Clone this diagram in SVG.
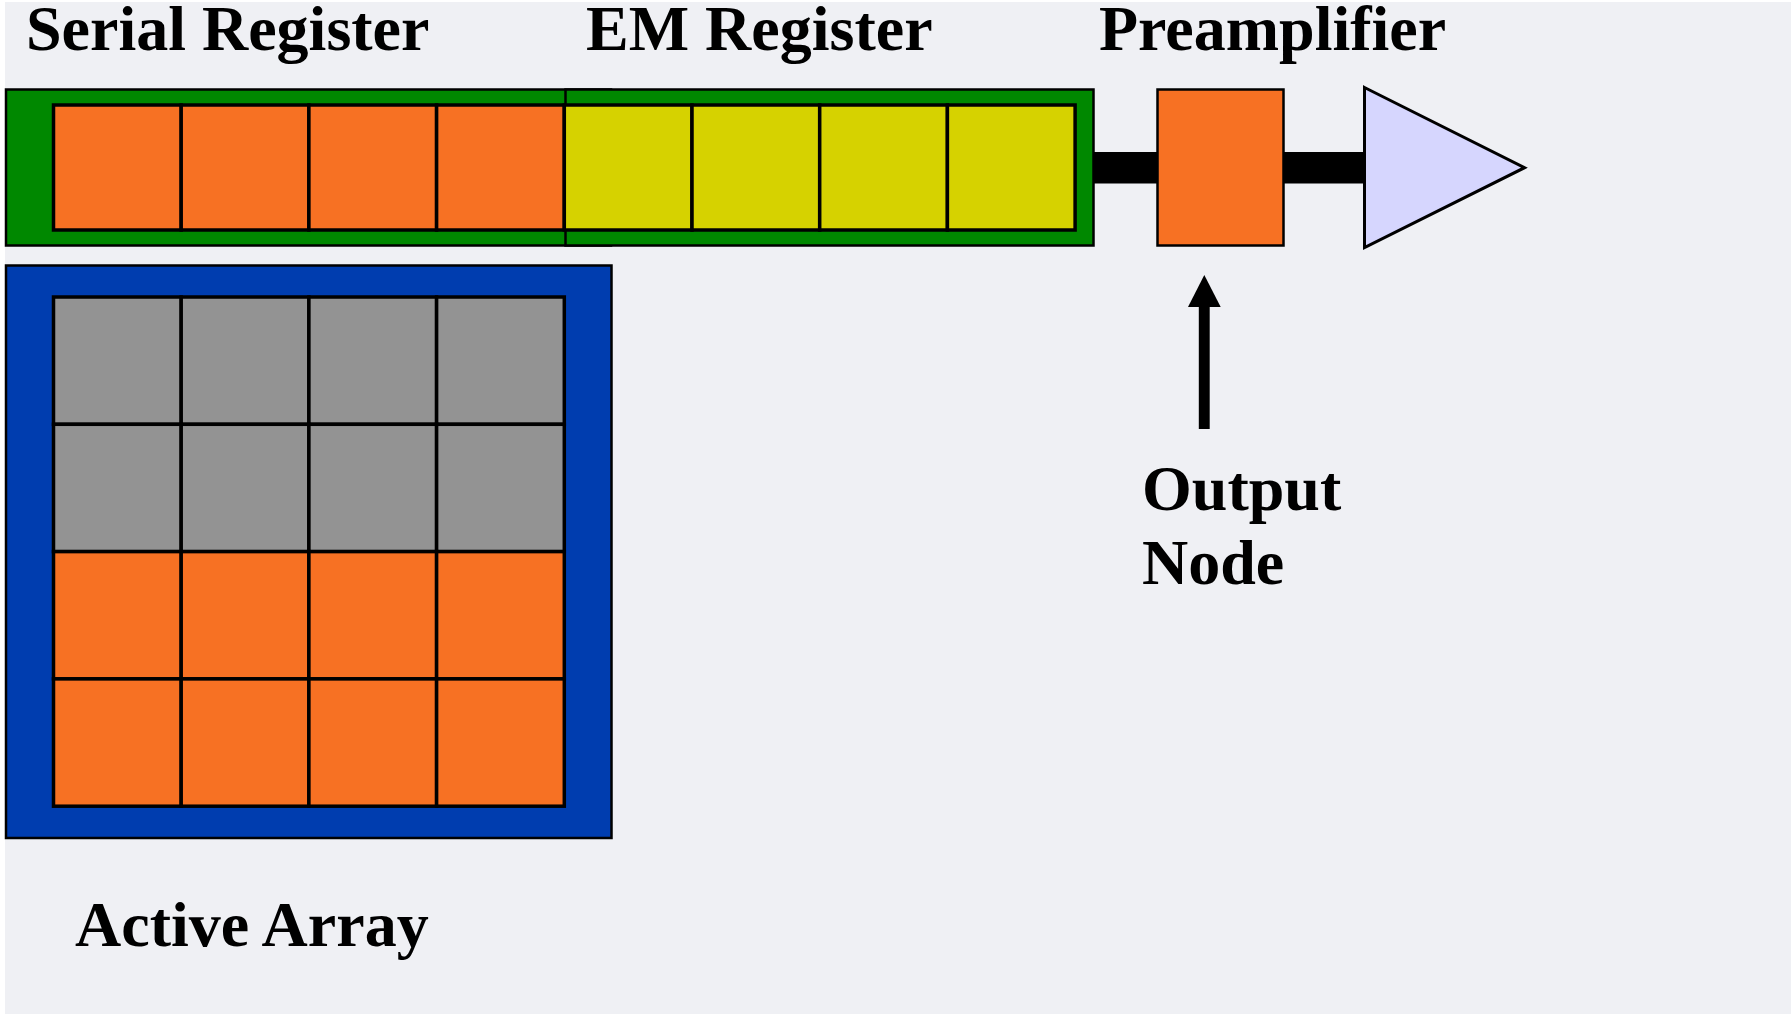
<svg xmlns="http://www.w3.org/2000/svg" width="1791" height="1017" viewBox="0 0 1791 1017">
<defs>
<style>
.lbl{font-family:"Liberation Serif","Times New Roman",serif;font-weight:bold;font-size:64px;fill:#000}
.frame{stroke:#000;stroke-width:2.5}
.cell{stroke:#000;stroke-width:3.5}
.or{fill:#F77123}
.ye{fill:#D6D200}
.gr{fill:#939393}
</style>
</defs>
<rect x="0" y="0" width="1791" height="1017" fill="#ffffff"/>
<rect x="5" y="2" width="1786" height="1012" fill="#EFF0F4"/>

<g id="serial-register">
<rect class="frame" x="6" y="89.5" width="605" height="156" fill="#008800"/>
</g>
<g id="em-register">
<rect class="frame" x="565.5" y="89.5" width="528" height="156" fill="#008800"/>
</g>
<g id="serial-cells">
<rect class="cell or" x="53.5" y="105" width="127.7" height="125"/>
<rect class="cell or" x="181.2" y="105" width="127.7" height="125"/>
<rect class="cell or" x="308.9" y="105" width="127.7" height="125"/>
<rect class="cell or" x="436.6" y="105" width="127.7" height="125"/>
</g>
<g id="em-cells">
<rect class="cell ye" x="564.3" y="105" width="127.7" height="125"/>
<rect class="cell ye" x="692" y="105" width="127.7" height="125"/>
<rect class="cell ye" x="819.7" y="105" width="127.7" height="125"/>
<rect class="cell ye" x="947.4" y="105" width="127.7" height="125"/>
</g>

<g id="connectors">
<rect x="1094" y="152" width="63.5" height="31.5" fill="#000"/>
<rect x="1283" y="152" width="81.5" height="31.5" fill="#000"/>
<rect x="1198.8" y="306" width="10.9" height="123" fill="#000"/>
<polygon points="1204.3,275 1220.7,307 1188,307" fill="#000"/>
</g>

<g id="output-node">
<rect class="frame" x="1157.5" y="89.5" width="126" height="156" fill="#F77123"/>
</g>
<g id="preamplifier">
<polygon points="1364.5,87.5 1524.5,167.7 1364.5,247.5" fill="#D6D6FE" stroke="#000" stroke-width="3"/>
</g>

<g id="active-array">
<rect class="frame" x="6" y="265.5" width="605.5" height="572.5" fill="#003DAF"/>
<rect class="cell gr" x="53.5" y="297" width="127.7" height="127.3"/>
<rect class="cell gr" x="181.2" y="297" width="127.7" height="127.3"/>
<rect class="cell gr" x="308.9" y="297" width="127.7" height="127.3"/>
<rect class="cell gr" x="436.6" y="297" width="127.7" height="127.3"/>
<rect class="cell gr" x="53.5" y="424.3" width="127.7" height="127.3"/>
<rect class="cell gr" x="181.2" y="424.3" width="127.7" height="127.3"/>
<rect class="cell gr" x="308.9" y="424.3" width="127.7" height="127.3"/>
<rect class="cell gr" x="436.6" y="424.3" width="127.7" height="127.3"/>
<rect class="cell or" x="53.5" y="551.6" width="127.7" height="127.3"/>
<rect class="cell or" x="181.2" y="551.6" width="127.7" height="127.3"/>
<rect class="cell or" x="308.9" y="551.6" width="127.7" height="127.3"/>
<rect class="cell or" x="436.6" y="551.6" width="127.7" height="127.3"/>
<rect class="cell or" x="53.5" y="678.9" width="127.7" height="127.3"/>
<rect class="cell or" x="181.2" y="678.9" width="127.7" height="127.3"/>
<rect class="cell or" x="308.9" y="678.9" width="127.7" height="127.3"/>
<rect class="cell or" x="436.6" y="678.9" width="127.7" height="127.3"/>
</g>

<g id="labels">
<text class="lbl" x="26" y="50">Serial Register</text>
<text class="lbl" x="586" y="50">EM Register</text>
<text class="lbl" x="1099" y="50">Preamplifier</text>
<text class="lbl" x="1142" y="510">Output</text>
<text class="lbl" x="1142" y="584">Node</text>
<text class="lbl" x="75" y="946">Active Array</text>
</g>
</svg>
